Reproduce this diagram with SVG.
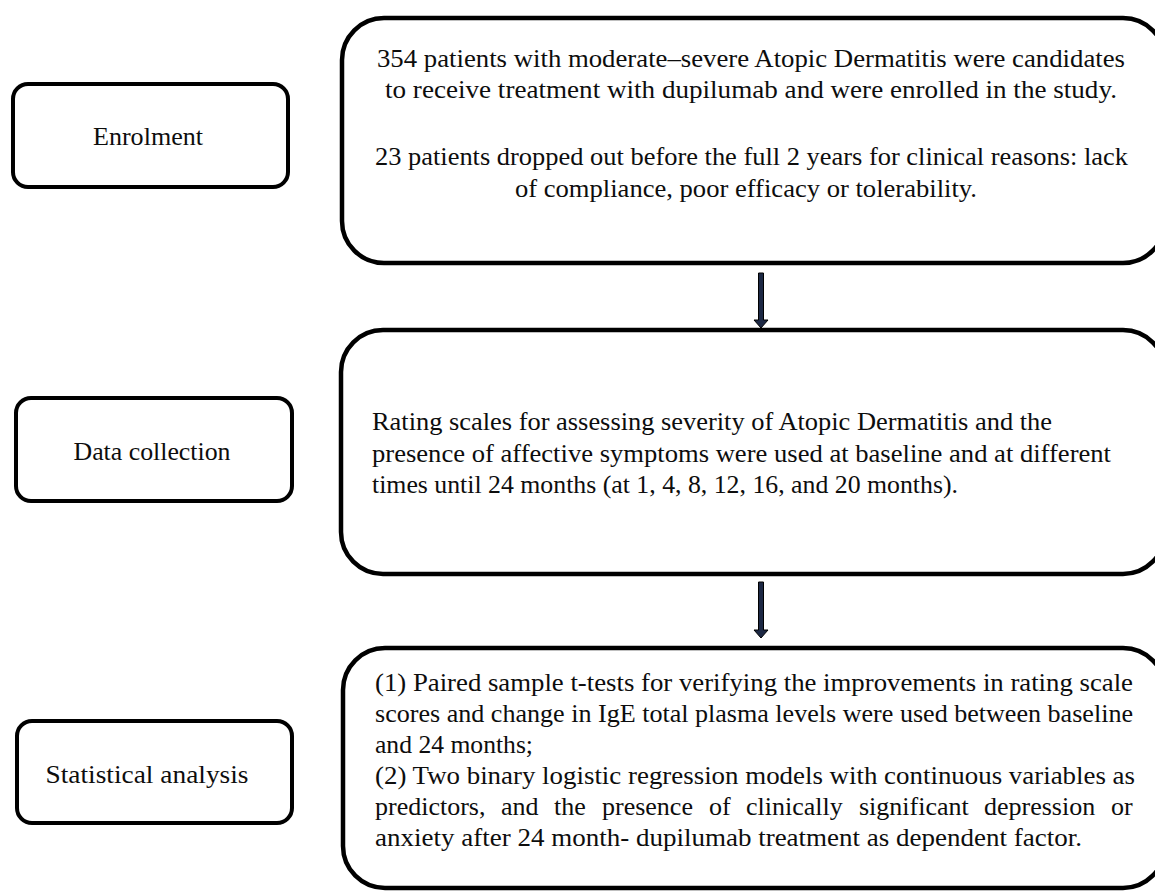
<svg xmlns="http://www.w3.org/2000/svg" width="1155" height="891" viewBox="0 0 1155 891">
<style>
.box{fill:#fff;stroke:#000;stroke-width:4.5}
.sbox{fill:#fff;stroke:#000;stroke-width:4}
text{font-family:"Liberation Serif","Times New Roman",serif;font-size:26px;fill:#0d0d0d}
.c{text-anchor:middle}
.arrow{fill:#1c2844;stroke:#000;stroke-width:1}
</style>
<rect width="1155" height="891" fill="#fff"/>
<g id="enrolment">
<rect class="sbox" x="13" y="84" width="275" height="103" rx="15"/>
<text class="c" x="148" y="145" textLength="110" lengthAdjust="spacingAndGlyphs">Enrolment</text>
</g>
<g id="data-collection">
<rect class="sbox" x="16" y="398" width="276" height="103" rx="15"/>
<text class="c" x="152" y="460" textLength="157" lengthAdjust="spacingAndGlyphs">Data collection</text>
</g>
<g id="statistical-analysis">
<rect class="sbox" x="17" y="721" width="275" height="102" rx="15"/>
<text class="c" x="147" y="783" textLength="203" lengthAdjust="spacingAndGlyphs">Statistical analysis</text>
</g>
<g id="enrolment-detail">
<rect class="box" x="342" y="18" width="823" height="245" rx="42"/>
<text x="377" y="67" textLength="748" lengthAdjust="spacingAndGlyphs">354 patients with moderate–severe Atopic Dermatitis were candidates</text>
<text x="385" y="98" textLength="732" lengthAdjust="spacingAndGlyphs">to receive treatment with dupilumab and were enrolled in the study.</text>
<text x="375" y="165" textLength="753" lengthAdjust="spacingAndGlyphs">23 patients dropped out before the full 2 years for clinical reasons: lack</text>
<text x="515" y="197" textLength="462" lengthAdjust="spacingAndGlyphs">of compliance, poor efficacy or tolerability.</text>
</g>
<g id="data-collection-detail">
<rect class="box" x="341" y="330" width="824" height="244" rx="42"/>
<text x="372" y="430" textLength="680" lengthAdjust="spacingAndGlyphs">Rating scales for assessing severity of Atopic Dermatitis and the</text>
<text x="372" y="462" textLength="739" lengthAdjust="spacingAndGlyphs">presence of affective symptoms were used at baseline and at different</text>
<text x="372" y="493" textLength="586" lengthAdjust="spacingAndGlyphs">times until 24 months (at 1, 4, 8, 12, 16, and 20 months).</text>
</g>
<g id="statistical-analysis-detail">
<rect class="box" x="343" y="648" width="822" height="240" rx="42"/>
<text x="375" y="691" textLength="758" lengthAdjust="spacingAndGlyphs">(1) Paired sample t-tests for verifying the improvements in rating scale</text>
<text x="375" y="722" textLength="758" lengthAdjust="spacingAndGlyphs">scores and change in IgE total plasma levels were used between baseline</text>
<text x="375" y="753" textLength="158" lengthAdjust="spacingAndGlyphs">and 24 months;</text>
<text x="375" y="784" textLength="760" lengthAdjust="spacingAndGlyphs">(2) Two binary logistic regression models with continuous variables as</text>
<text y="815"><tspan x="375">predictors,</tspan><tspan x="501">and</tspan><tspan x="554">the</tspan><tspan x="602">presence</tspan><tspan x="709">of</tspan><tspan x="746">clinically</tspan><tspan x="859">significant</tspan><tspan x="984">depression</tspan><tspan x="1111">or</tspan></text>
<text x="375" y="846" textLength="707" lengthAdjust="spacingAndGlyphs">anxiety after 24 month- dupilumab treatment as dependent factor.</text>
</g>
<g id="connectors">
<polygon class="arrow" points="758.5,273 763.5,273 763.5,320 768,320 761,328 754,320 758.5,320"/>
<polygon class="arrow" points="758.5,582 763.5,582 763.5,630 768,630 761,638 754,630 758.5,630"/>
</g>
</svg>
